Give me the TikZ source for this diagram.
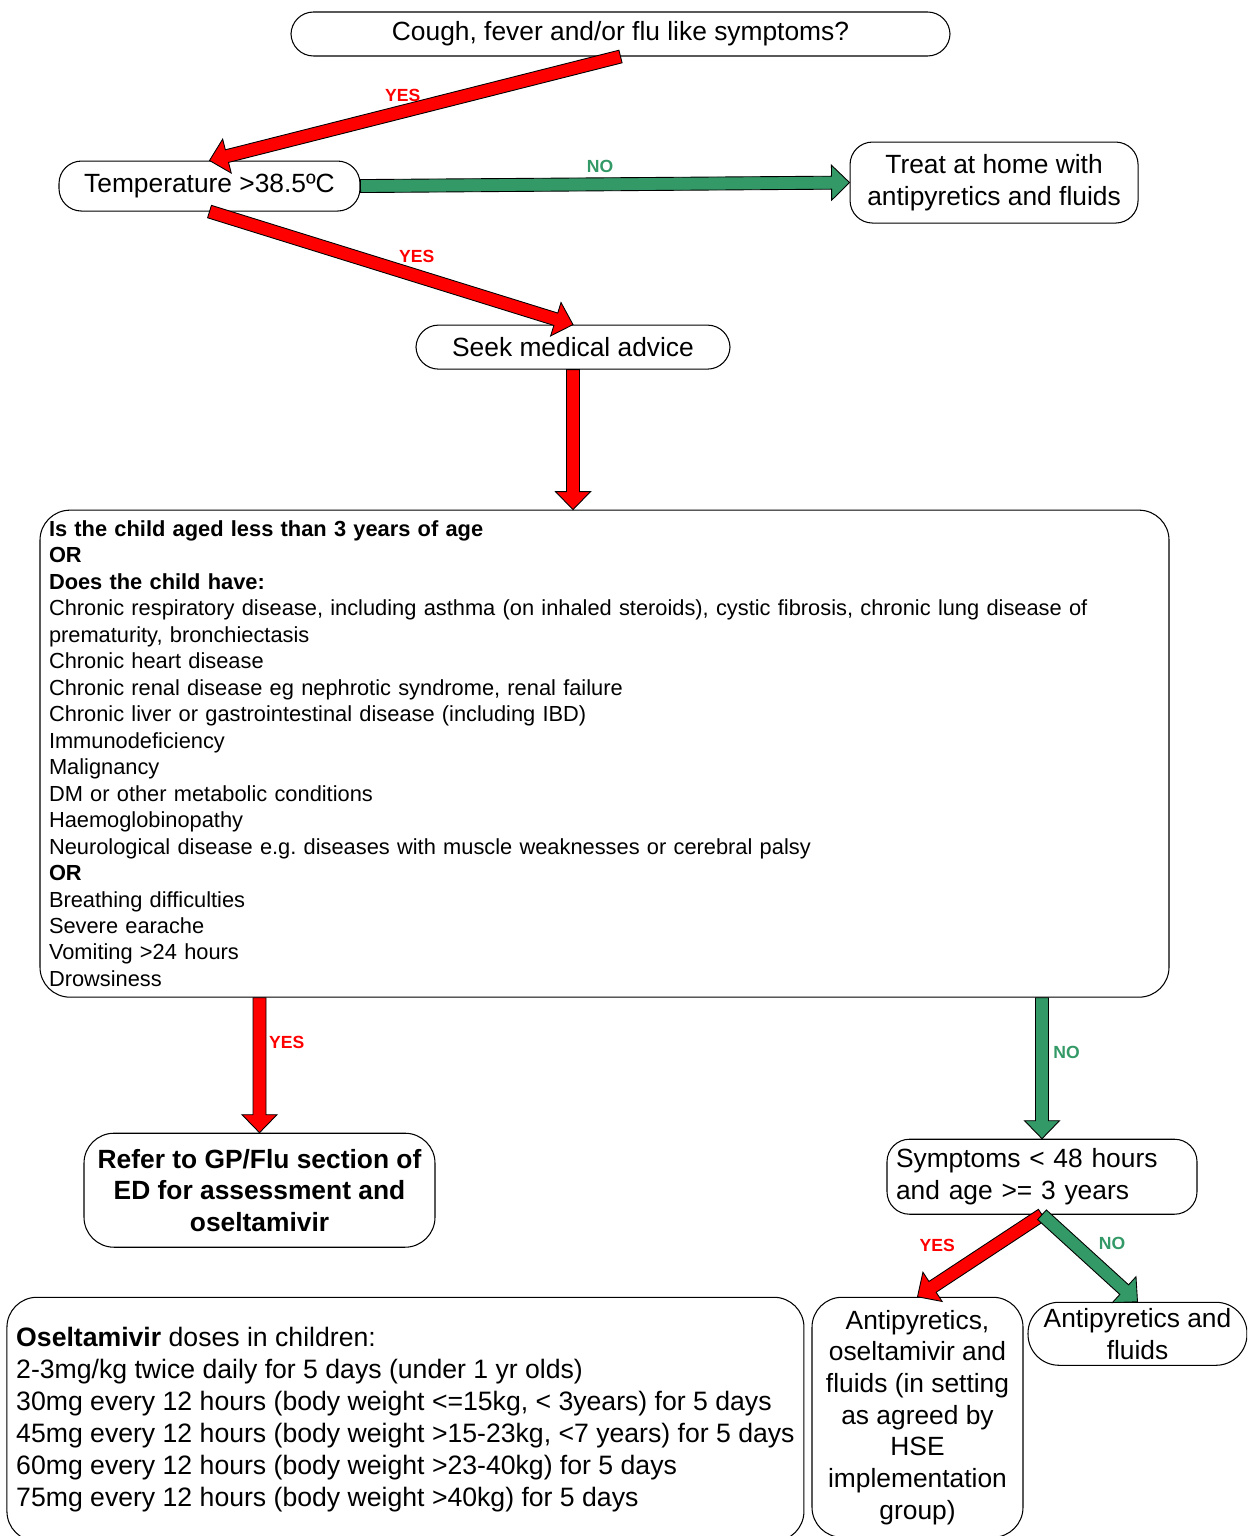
\documentclass[tikz,border=0pt]{standalone}
\usepackage{fontspec}
\setmainfont{Liberation Sans}
\usepackage{xcolor}
\usetikzlibrary{positioning, calc}

\definecolor{nogreen}{HTML}{339966}

% block arrow: [label node] {fill} {from} {to}
\newcommand{\fatarrow}[4][]{%
  \coordinate (fa-neck) at ($(#4)!0.36cm!(#3)$);
  \filldraw[fill=#2, draw=black, line width=0.5pt]
    ($(#3)!0.13cm!90:(#4)$) -- ($(fa-neck)!0.13cm!90:(#4)$)
    -- ($(fa-neck)!0.35cm!90:(#4)$) -- (#4)
    -- ($(fa-neck)!0.35cm!-90:(#4)$) -- ($(fa-neck)!0.13cm!-90:(#4)$)
    -- ($(#3)!0.13cm!-90:(#4)$) -- cycle;
  \path (#3) -- (#4) #1;
}

\begin{document}
\begin{tikzpicture}[
    roundbox/.style={draw, line width=0.6pt, rounded corners=0.45cm, fill=white,
        font=\fontsize{15}{18}\selectfont, align=center, inner sep=0.1cm},
    listbox/.style={draw, line width=0.6pt, rounded corners=0.6cm, fill=white,
        font=\fontsize{12.42}{15.06}\selectfont, align=left, inner sep=0.18cm},
    yeslbl/.style={font=\fontsize{10}{12}\selectfont\bfseries, text=red},
    nolbl/.style={font=\fontsize{10}{12}\selectfont\bfseries, text=nogreen}
]

\useasboundingbox (0,0) rectangle (24.94,-30.72);
\clip (0,0) rectangle (24.94,-30.72);

% Boxes
\node[roundbox, minimum width=13.18cm, minimum height=0.88cm] (cough) at (12.41,-0.68)
    {Cough, fever and/or flu like symptoms?};
\node[roundbox, minimum width=6.02cm, minimum height=1.0cm, below=2.08cm of cough, xshift=-8.22cm] (temp)
    {Temperature >38.5ºC};
\node[roundbox, minimum width=5.76cm, minimum height=1.62cm, right=9.78cm of temp, yshift=0.07cm] (treat)
    {Treat at home with\\antipyretics and fluids};
\node[roundbox, minimum width=6.28cm, minimum height=0.88cm, below=2.26cm of temp, xshift=7.27cm] (seek)
    {Seek medical advice};

\node[listbox, text width=22.22cm, minimum height=9.74cm, below=2.80cm of seek, xshift=0.63cm] (main) {%
    \textbf{Is the child aged less than 3 years of age}\\
    \textbf{OR}\\
    \textbf{Does the child have:}\\
    Chronic respiratory disease, including asthma (on inhaled steroids), cystic fibrosis, chronic lung disease of\\
    prematurity, bronchiectasis\\
    Chronic heart disease\\
    Chronic renal disease eg nephrotic syndrome, renal failure\\
    Chronic liver or gastrointestinal disease (including IBD)\\
    Immunodeficiency\\
    Malignancy\\
    DM or other metabolic conditions\\
    Haemoglobinopathy\\
    Neurological disease e.g.\ diseases with muscle weaknesses or cerebral palsy\\
    \textbf{OR}\\
    Breathing difficulties\\
    Severe earache\\
    Vomiting >24 hours\\
    Drowsiness};

\node[roundbox, font=\fontsize{15}{18}\selectfont\bfseries, rounded corners=0.6cm,
    minimum width=7.02cm, minimum height=2.28cm, below=2.70cm of main, xshift=-6.90cm] (refer)
    {Refer to GP/Flu section of\\ED for assessment and\\oseltamivir};
\node[roundbox, align=left, text width=5.84cm, inner xsep=0.18cm, minimum height=1.5cm,
    below=2.82cm of main, xshift=8.75cm] (symptoms)
    {Symptoms < 48 hours\\and age >= 3 years};

\node[roundbox, rounded corners=0.6cm, minimum width=4.22cm, minimum height=4.8cm,
    below=1.64cm of symptoms, xshift=-2.49cm] (antiosel)
    {Antipyretics,\\oseltamivir and\\fluids (in setting\\as agreed by\\HSE\\implementation\\group)};
\node[roundbox, rounded corners=0.62cm, minimum width=4.38cm, minimum height=1.26cm,
    below=1.74cm of symptoms, xshift=1.91cm] (antifluids)
    {Antipyretics and\\fluids};
\node[listbox, font=\fontsize{15.15}{18.2}\selectfont, minimum width=15.94cm,
    minimum height=4.88cm, left=0.14cm of antiosel.north west, anchor=north east] (dose) {%
    \textbf{Oseltamivir} doses in children:\\
    2-3mg/kg twice daily for 5 days (under 1 yr olds)\\
    30mg every 12 hours (body weight <=15kg, < 3years) for 5 days\\
    45mg every 12 hours (body weight >15-23kg, <7 years) for 5 days\\
    60mg every 12 hours (body weight >23-40kg) for 5 days\\
    75mg every 12 hours (body weight >40kg) for 5 days};

% Connector ends on the big box
\coordinate (mainin) at (seek.south |- main.north);
\coordinate (mainout1) at (refer.north |- main.south);
\coordinate (mainout2) at (symptoms.north |- main.south);

% Arrows
\fatarrow[{node[yeslbl, pos=0.53, above=2pt] {YES}}]{red}{cough.south}{temp.north}
\fatarrow[{node[nolbl, pos=0.49, above=3pt] {NO}}]{nogreen}{temp.east}{treat.west}
\fatarrow[{node[yeslbl, pos=0.57, above=4pt] {YES}}]{red}{temp.south}{seek.north}
\fatarrow{red}{seek.south}{mainin}
\fatarrow[{node[yeslbl, pos=0.33, right=2pt] {YES}}]{red}{mainout1}{refer.north}
\fatarrow[{node[nolbl, pos=0.39, right=3pt] {NO}}]{nogreen}{mainout2}{symptoms.north}
\fatarrow[{node[yeslbl, pos=0.7, xshift=-10pt, yshift=15pt] {YES}}]{red}{symptoms.south}{antiosel.north}
\fatarrow[{node[nolbl, pos=0.55, xshift=10pt, yshift=11pt] {NO}}]{nogreen}{symptoms.south}{antifluids.north}

\end{tikzpicture}
\end{document}
